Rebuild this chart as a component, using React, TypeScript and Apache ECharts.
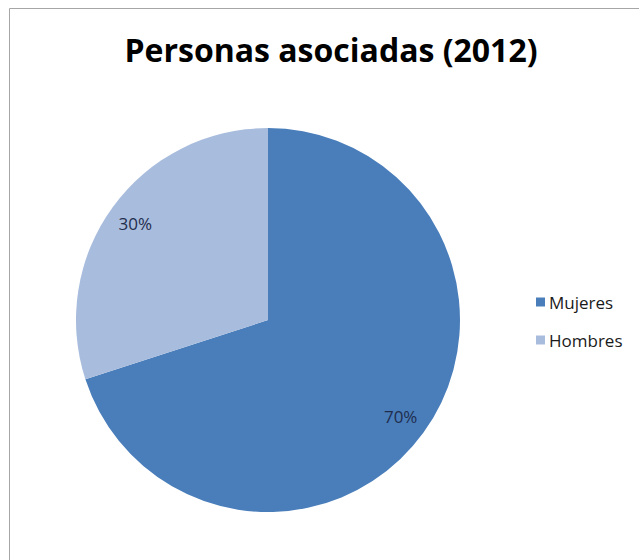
import React, { useEffect, useRef } from "react";
import * as echarts from "echarts";

const titleText = "Personas asociadas (2012)";
const categories = ["Mujeres", "Hombres"];
const values = [70, 30];
const colors = ["#4a7ebb", "#a8bcdd"];

export default function App() {
  const ref = useRef<HTMLDivElement>(null);
  useEffect(() => {
    if (!ref.current) return;
    const chart = echarts.init(ref.current, null, { renderer: "svg" });
    const data = categories.map((name, i) => ({
      name,
      value: values[i],
      itemStyle: { color: colors[i] },
    }));
    chart.setOption({
      animation: false,
      backgroundColor: "#ffffff",
      title: {
        text: titleText,
        left: 326,
        textAlign: "center",
        top: 28,
        textStyle: {
          fontFamily: "Open Sans",
          fontWeight: "bold",
          fontSize: 32,
          color: "#000000",
        },
      },
      legend: {
        orient: "vertical",
        left: 531,
        top: 287,
        icon: "rect",
        itemWidth: 9,
        itemHeight: 9,
        itemGap: 18,
        data: categories,
        textStyle: {
          fontFamily: "Open Sans",
          fontSize: 17,
          lineHeight: 20,
          color: "#1a1a1a",
          padding: [0, 0, 0, -1],
        },
      },
      graphic: [
        {
          type: "rect",
          shape: { x: 9.5, y: 8.5, width: 640, height: 560 },
          style: { fill: "none", stroke: "#a6a6a6", lineWidth: 1 },
          silent: true,
        },
      ],
      series: [
        {
          type: "pie",
          center: [268, 320],
          radius: [0, 192],
          startAngle: 90,
          clockwise: true,
          label: { show: false },
          labelLine: { show: false },
          data,
        },
        {
          type: "pie",
          center: [268, 320],
          radius: [130, 192],
          startAngle: 90,
          clockwise: true,
          silent: true,
          itemStyle: { color: "transparent", borderWidth: 0 },
          label: {
            show: true,
            position: "inside",
            formatter: "{c}%",
            fontFamily: "Open Sans",
            fontSize: 17,
            color: "#1f2d4d",
          },
          labelLine: { show: false },
          data: categories.map((name, i) => ({
            name,
            value: values[i],
            itemStyle: { color: "transparent" },
          })),
        },
      ],
    });
    return () => chart.dispose();
  }, []);
  return (
    <div
      ref={ref}
      style={{ position: "absolute", left: 0, top: 0, width: 639, height: 560 }}
    />
  );
}
